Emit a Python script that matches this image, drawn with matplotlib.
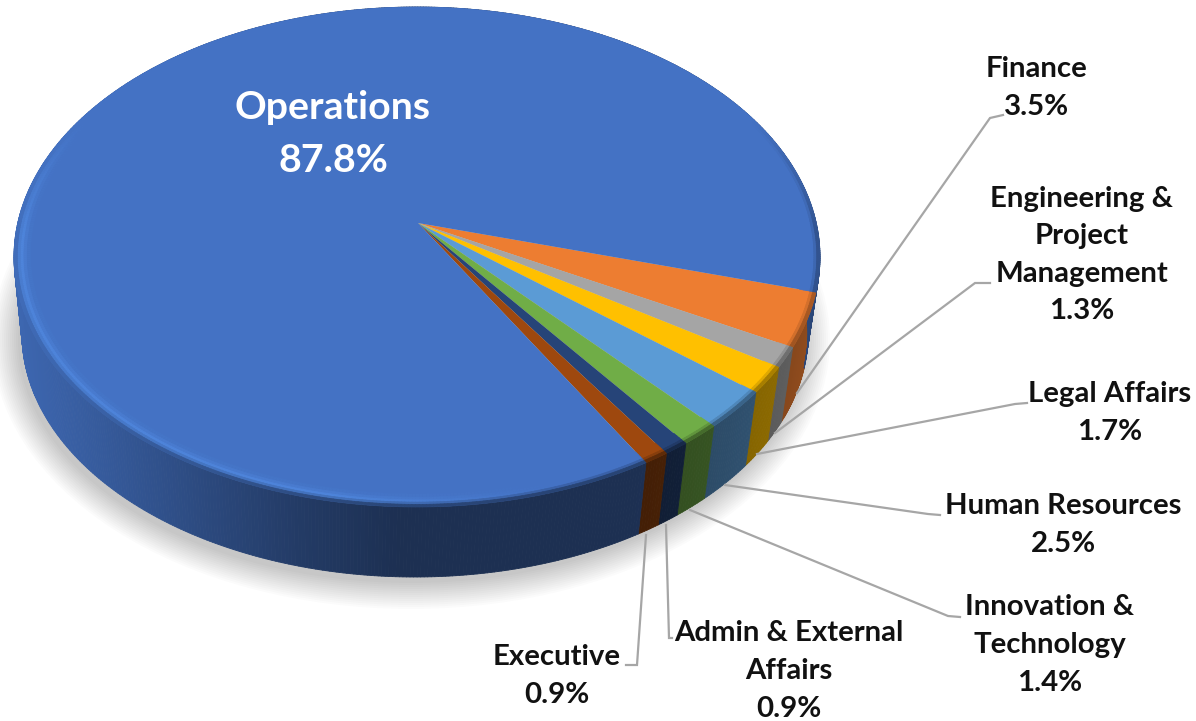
import numpy as np
import matplotlib
matplotlib.use("Agg")
import matplotlib.pyplot as plt
from matplotlib.collections import PolyCollection
from matplotlib.colors import to_rgb
from matplotlib.patches import Ellipse

# ---- data, in clockwise drawing order starting at the Operations/Finance edge
departments = ["Finance", "Engineering &\nProject\nManagement", "Legal Affairs",
               "Human Resources", "Innovation &\nTechnology",
               "Admin & External\nAffairs", "Executive", "Operations"]
shares = [3.5, 1.3, 1.7, 2.5, 1.4, 0.9, 0.9, 87.8]
colors = ["#ED7D31", "#A5A5A5", "#FFC000", "#5B9BD5", "#70AD47",
          "#264478", "#9E480E", "#4472C4"]

label_xy = [(1037, 88), (1082, 255), (1110, 413), (1063, 525),
            (1050, 645), (789, 671), (557, 676), (333, 134)]
leaders = [
    [(1003, 115), (990, 118), (797, 393)],
    [(990, 283), (975, 283), (775, 433)],
    [(1027, 403), (1015, 404), (757, 454)],
    [(940, 515), (928, 514), (725, 485)],
    [(960, 617), (948, 616), (690, 510)],
    [(672, 638), (669, 638), (666, 525)],
    [(626, 665), (637, 665), (646, 535)],
]

# ---- geometry of the tilted disc (pixels)
TOP = dict(cx=417.0, cy=257.0, a=403.0, b=250.0)
BOT = dict(cx=415.0, cy=334.0, a=393.0, b=243.0)
P = np.array([0.0025, -0.136])      # where the disc centre lands inside the ellipse
HIGHLIGHT = np.array(to_rgb("#5089E0"))


def klein(v, p):
    """Projective map of the unit disc sending the origin to p."""
    v = np.asarray(v, float)
    n2 = p @ p
    d = np.asarray(v @ p)[..., None]
    par = d / n2 * p
    perp = v - par
    return (p + par + np.sqrt(1 - n2) * perp) / (1 + d)


def project(t, r, e):
    v = np.stack([r * np.cos(t), r * np.sin(t)], axis=-1)
    s = klein(v, P)
    return np.stack([e["cx"] + e["a"] * s[..., 0], e["cy"] + e["b"] * s[..., 1]], axis=-1)


def side_shade(x):
    return np.interp(x, [-1.0, -0.8, -0.54, -0.3, -0.05, 0.55, 0.78, 0.9, 1.0],
                     [0.90, 0.80, 0.65, 0.52, 0.42, 0.42, 0.50, 0.55, 0.62])


s0 = klein(np.array([(815 - TOP["cx"]) / TOP["a"], (292 - TOP["cy"]) / TOP["b"]]), -P)
start = np.arctan2(s0[1], s0[0])
edges = start + np.radians(np.concatenate([[0], np.cumsum(shares)]) * 3.6)

fig = plt.figure(figsize=(11.96, 7.21), dpi=100)
ax = fig.add_axes([0, 0, 1, 1])
ax.set_xlim(0, 1196)
ax.set_ylim(721, 0)
ax.axis("off")

# soft shadow
for d in np.linspace(26, 0, 14):
    ax.add_patch(Ellipse((411, 340), 2 * (BOT["a"] + d), 2 * (BOT["b"] + d),
                         fc="k", ec="none", alpha=0.015, zorder=1))

# side wall
polys, cols = [], []
for i, c in enumerate(colors):
    base = np.array(to_rgb(c))
    n = max(4, int(shares[i] * 8))
    tt = np.linspace(edges[i], edges[i + 1], n + 1)
    up = project(tt, 1.0, TOP)
    lo = project(tt, 1.0, BOT)
    for j in range(n):
        polys.append([up[j], up[j + 1], lo[j + 1], lo[j]])
        x = (0.5 * (up[j, 0] + up[j + 1, 0]) - TOP["cx"]) / TOP["a"]
        cols.append(base * side_shade(x))
ax.add_collection(PolyCollection(polys, facecolors=cols, edgecolors=cols, linewidths=0.6, zorder=2))

# top face
for i, c in enumerate(colors):
    tt = np.linspace(edges[i], edges[i + 1], max(6, int(shares[i] * 8)))
    rim = project(tt, 1.0, TOP)
    apex = project(np.array([0.0]), 0.0, TOP)
    pts = np.vstack([apex, rim])
    ax.fill(pts[:, 0], pts[:, 1], color=c, lw=0, zorder=3)

# bevelled rim
rings = [(0.960, 0.970, 0.12, 0.0), (0.970, 0.978, 0.40, 0.0), (0.978, 0.985, 0.80, 0.0),
         (0.985, 0.992, 0.85, 0.25), (0.992, 1.000, 0.45, 0.7)]
polys, cols = [], []
for i, c in enumerate(colors):
    base = np.array(to_rgb(c))
    n = max(4, int(shares[i] * 8))
    tt = np.linspace(edges[i], edges[i + 1], n + 1)
    for r0, r1, hl, dk in rings:
        a = project(tt, r0, TOP)
        b = project(tt, r1, TOP)
        for j in range(n):
            tm = 0.5 * (tt[j] + tt[j + 1])
            x = np.cos(tm)
            front = np.clip((np.sin(tm) + 0.45) / 0.5, 0, 1)
            h = hl * (1.0 if i == 7 else 0.15) * np.clip((0.3 - x) / 0.5, 0, 1) * front
            col = base + (HIGHLIGHT - base) * h
            col = col + (base * side_shade(x) - col) * dk * front
            polys.append([a[j], a[j + 1], b[j + 1], b[j]])
            cols.append(np.clip(col, 0, 1))
ax.add_collection(PolyCollection(polys, facecolors=cols, edgecolors=cols, linewidths=0.5, zorder=4))

# leader lines
for line in leaders:
    xs, ys = zip(*line)
    ax.plot(xs, ys, color="#A6A6A6", lw=1.6, solid_joinstyle="miter", zorder=5)

# labels
for name, val, (x, y) in zip(departments, shares, label_xy):
    big = name == "Operations"
    ax.text(x, y, f"{name}\n{val:.1f}%", ha="center", va="center", family="Lato",
            fontweight="bold", fontsize=28.3 if big else 21.2,
            linespacing=1.6 if big else 1.55,
            color="white" if big else "#111111", zorder=6)

fig.savefig("out.png", dpi=100)
